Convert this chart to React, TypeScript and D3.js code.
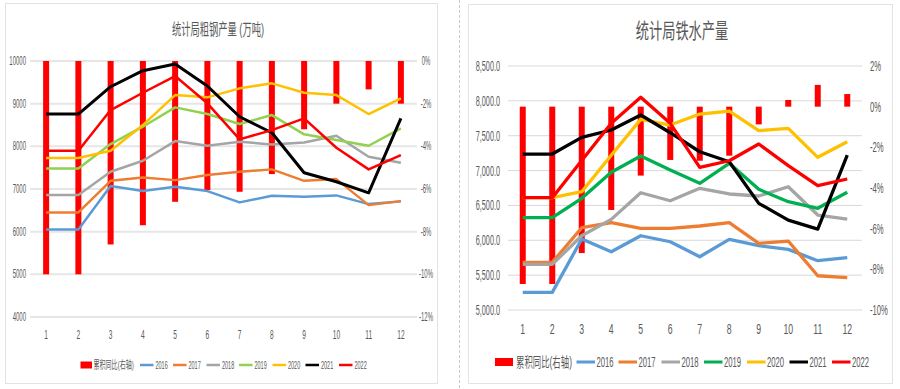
import React from 'react';
import * as d3 from 'd3';

const months = [1, 2, 3, 4, 5, 6, 7, 8, 9, 10, 11, 12];
const years = ['2016', '2017', '2018', '2019', '2020', '2021', '2022'];

// 粗钢产量 (万吨) + 累积同比 (%)
const steelYoY = [-10, -10, -8.6, -7.7, -6.6, -6.05, -6.13, -5.3, -3.2, -2.0, -1.33, -2.0];
const steel2016 = [6052, 6052, 7068, 6951, 7052, 6951, 6686, 6842, 6818, 6850, 6646, 6710];
const steel2017 = [6451, 6451, 7192, 7271, 7208, 7326, 7404, 7460, 7192, 7232, 6622, 6716];
const steel2018 = [6857, 6857, 7404, 7662, 8123, 8014, 8108, 8045, 8092, 8248, 7756, 7615];
const steel2019 = [7483, 7483, 8053, 8460, 8913, 8757, 8522, 8733, 8281, 8147, 8014, 8421];
const steel2020 = [7725, 7725, 7896, 8499, 9202, 9148, 9359, 9476, 9256, 9202, 8757, 9125];
const steel2021 = [8757, 8757, 9397, 9773, 9930, 9414, 8694, 8318, 7380, 7169, 6911, 8656];
const steel2022 = [7896, 7896, 8851, 9256, 9648, 9008, 8163, 8381, 8656, 7966, 7460, 7795];

// 铁水产量 + 累积同比 (%)
const ironYoY = [-8.72, -8.72, -7.2, -5.08, -3.39, -2.62, -2.66, -2.41, -0.87, 0.33, 1.07, 0.62];
const iron2016 = [5253, 5253, 6018, 5836, 6065, 5979, 5764, 6014, 5922, 5870, 5707, 5750];
const iron2017 = [5684, 5684, 6180, 6252, 6171, 6171, 6205, 6252, 5956, 5989, 5491, 5463];
const iron2018 = [5655, 5655, 6065, 6300, 6682, 6567, 6745, 6664, 6635, 6768, 6362, 6305];
const iron2019 = [6324, 6324, 6602, 6975, 7209, 7008, 6817, 7104, 6731, 6553, 6459, 6688];
const iron2020 = [6611, 6611, 6697, 7219, 7735, 7653, 7811, 7854, 7572, 7606, 7190, 7414];
const iron2021 = [7237, 7237, 7477, 7582, 7797, 7543, 7270, 7127, 6530, 6290, 6161, 7223];
const iron2022 = [6611, 6611, 7145, 7678, 8051, 7678, 7047, 7141, 7381, 7070, 6783, 6879];

const steelTicks = [4000, 5000, 6000, 7000, 8000, 9000, 10000];
const steelPctTicks = [0, -2, -4, -6, -8, -10, -12];
const ironTicks = [5000, 5500, 6000, 6500, 7000, 7500, 8000, 8500];
const ironPctTicks = [2, 0, -2, -4, -6, -8, -10];

const leftColors = ['#5b9bd5', '#ed7d31', '#a5a5a5', '#92d050', '#ffc000', '#000000', '#ff0000'];
const rightColors = ['#5b9bd5', '#ed7d31', '#a5a5a5', '#00b050', '#ffc000', '#000000', '#ff0000'];

const FONT = '"Liberation Sans", "Noto Sans CJK SC", sans-serif';
const TXT = '#595959';

// Excel renders these charts with very narrow glyphs, so text is squeezed horizontally
const CText = ({ x, y, sx, size, anchor = 'start', fill = TXT, children }: any) => (
  <text
    transform={`translate(${x},${y}) scale(${sx},1)`}
    textAnchor={anchor}
    fontSize={size}
    fontFamily={FONT}
    fill={fill}
  >
    {children}
  </text>
);

const SteelChart = () => {
  const x = d3.scalePoint<number>().domain(months).range([30, 417]).padding(0.5);
  const y = d3.scaleLinear().domain([4000, 10000]).range([317, 61]);
  const yr = d3.scaleLinear().domain([-12, 0]).range([317, 61]);
  const series = [steel2016, steel2017, steel2018, steel2019, steel2020, steel2021, steel2022];
  const line = d3.line<number>().x((_, i) => x(months[i])!).y((d) => y(d));
  const legendX = [80.5, 140, 173, 206.5, 239, 272.5, 305.5, 339];

  return (
    <g>
      <rect x={5.5} y={3.5} width={432} height={380} fill="#fff" stroke="#e3e3e3" />
      <CText x={218} y={35} sx={0.58} size={16} anchor="middle">统计局粗钢产量 (万吨)</CText>
      {steelTicks.map((t) => (
        <g key={t}>
          <line x1={30} x2={417} y1={y(t)} y2={y(t)} stroke="#e6e6e6" strokeWidth={2} />
          <CText x={26} y={y(t) + 4} sx={0.5} size={12} anchor="end">{t}</CText>
        </g>
      ))}
      {steelPctTicks.map((t) => (
        <CText key={t} x={426} y={yr(t) + 4} sx={0.5} size={12} anchor="middle">{`${t}%`}</CText>
      ))}
      {months.map((m, i) => (
        <rect key={m} x={x(m)! - 3} width={6} y={yr(0)} height={yr(steelYoY[i]) - yr(0)} fill="#ff0000" />
      ))}
      {series.map((s, i) => (
        <path key={i} d={line(s)!} fill="none" stroke={leftColors[i]}
          strokeWidth={i === 5 ? 3 : 2.5} strokeLinejoin="round" />
      ))}
      {months.map((m) => (
        <CText key={m} x={x(m)!} y={339} sx={0.55} size={12} anchor="middle">{m}</CText>
      ))}
      <rect x={legendX[0]} y={361.5} width={11.5} height={7} fill="#ff0000" />
      <CText x={93.5} y={369} sx={0.55} size={11}>累积同比(右轴)</CText>
      {years.map((yrName, i) => (
        <g key={yrName}>
          <line x1={legendX[i + 1]} x2={legendX[i + 1] + 13.5} y1={365} y2={365}
            stroke={leftColors[i]} strokeWidth={2.5} />
          <CText x={legendX[i + 1] + 15.5} y={369} sx={0.5} size={11}>{yrName}</CText>
        </g>
      ))}
    </g>
  );
};

const IronChart = () => {
  const x = d3.scalePoint<number>().domain(months).range([508, 862]).padding(0.5);
  const y = d3.scaleLinear().domain([5000, 8500]).range([310, 66]);
  const yr = d3.scaleLinear().domain([-10, 2]).range([310, 66]);
  const series = [iron2016, iron2017, iron2018, iron2019, iron2020, iron2021, iron2022];
  const line = d3.line<number>().x((_, i) => x(months[i])!).y((d) => y(d));
  const fmt = d3.format(',.1f');
  const legendX = [495, 576.5, 618.5, 661.5, 704, 747, 789.5, 832];

  return (
    <g>
      <line x1={459.5} x2={459.5} y1={0} y2={389} stroke="#c8c8c8" strokeDasharray="3,2" />
      <rect x={468.5} y={4.5} width={424} height={379} fill="#fff" stroke="#e3e3e3" />
      <CText x={682} y={38} sx={0.63} size={21} anchor="middle">统计局铁水产量</CText>
      {ironTicks.map((t) => (
        <g key={t}>
          <line x1={508} x2={862} y1={y(t)} y2={y(t)} stroke="#d9d9d9" strokeWidth={1} />
          <CText x={500} y={y(t) + 5} sx={0.52} size={14} anchor="end">{fmt(t)}</CText>
        </g>
      ))}
      {ironPctTicks.map((t) => (
        <CText key={t} x={870} y={yr(t) + 5} sx={0.55} size={14}>{`${t}%`}</CText>
      ))}
      {months.map((m, i) => {
        const v = ironYoY[i];
        return (
          <rect key={m} x={x(m)! - 3} width={6} y={yr(Math.max(0, v))}
            height={Math.abs(yr(v) - yr(0))} fill="#ff0000" />
        );
      })}
      {series.map((s, i) => (
        <path key={i} d={line(s)!} fill="none" stroke={rightColors[i]}
          strokeWidth={3.3} strokeLinejoin="round" />
      ))}
      {months.map((m) => (
        <CText key={m} x={x(m)!} y={334} sx={0.58} size={15} anchor="middle">{m}</CText>
      ))}
      <rect x={legendX[0]} y={358} width={18} height={8} fill="#ff0000" />
      <CText x={516} y={367} sx={0.6} size={14}>累积同比(右轴)</CText>
      {years.map((yrName, i) => (
        <g key={yrName}>
          <line x1={legendX[i + 1]} x2={legendX[i + 1] + 18.5} y1={362} y2={362}
            stroke={rightColors[i]} strokeWidth={3} />
          <CText x={legendX[i + 1] + 20} y={367} sx={0.55} size={14}>{yrName}</CText>
        </g>
      ))}
    </g>
  );
};

export default function App() {
  return (
    <div style={{ position: 'absolute', left: 0, top: 0 }}>
      <svg width={900} height={389} style={{ display: 'block', background: '#fff' }}>
        <rect width={900} height={389} fill="#fff" />
        <SteelChart />
        <IronChart />
      </svg>
    </div>
  );
}
